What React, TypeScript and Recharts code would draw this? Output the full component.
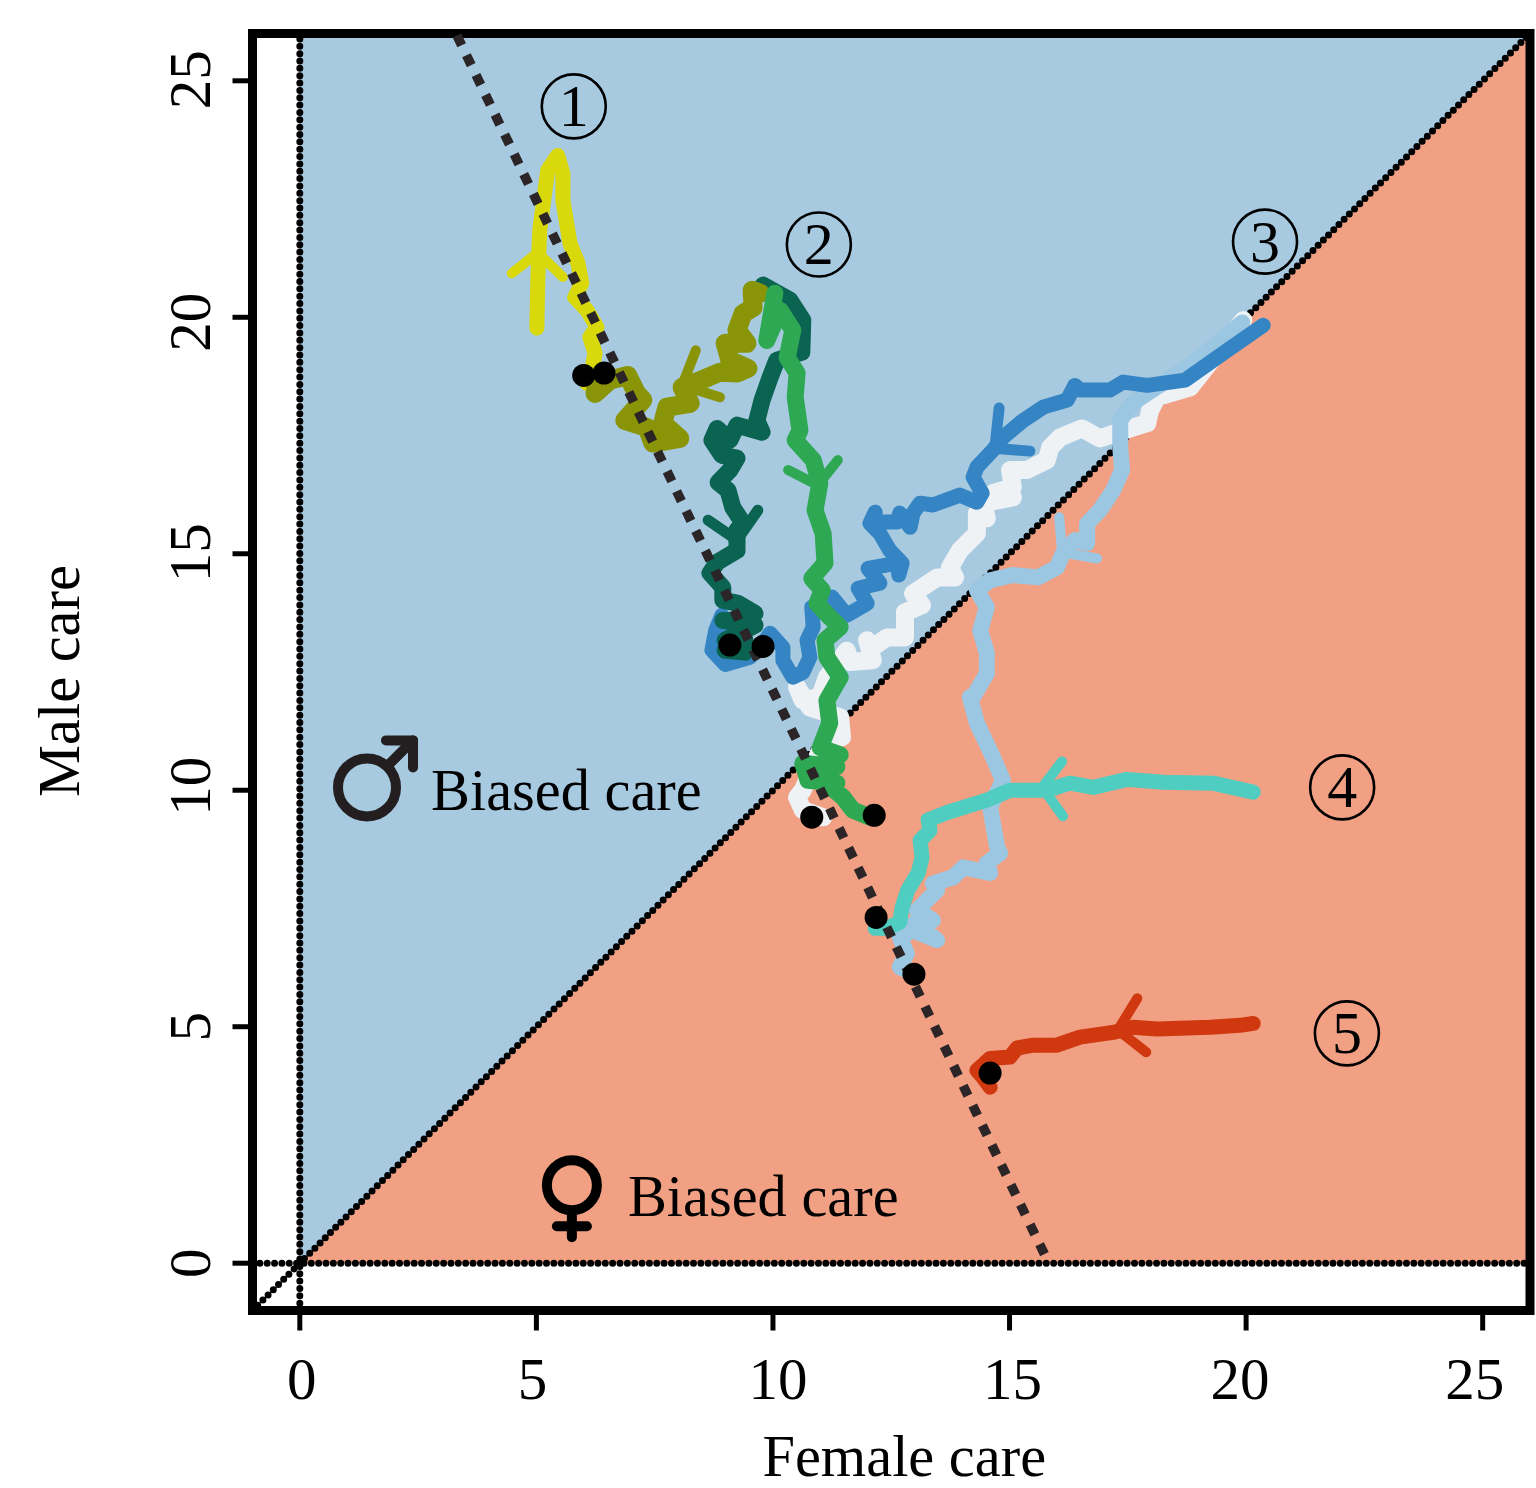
import { Area, ComposedChart, Line, ReferenceArea, ReferenceDot, XAxis, YAxis } from "recharts";

type Pair = [number, number];

const axisTicks = [0, 5, 10, 15, 20, 25];
const axisMin = -1;
const axisMax = 26;

const maleRegion = [
  { x: 0, y: [0, 26] },
  { x: 26, y: [26, 26] },
];
const femaleRegion = [
  { x: 0, y: [0, 0] },
  { x: 26, y: [0, 26] },
];

const equalCareLine: Pair[] = [[-1, -1], [26, 26]];
const zeroFemaleLine: Pair[] = [[0, -1], [0, 26]];
const zeroMaleLine: Pair[] = [[-1, 0], [26, 0]];
const isoclineLine: Pair[] = [[3.32, 25.96], [15.8, 0.06]];

const yellowPath: Pair[] = [
  [5.01, 19.77], [5.03, 20.78], [5.07, 21.84], [5.24, 23.11], [5.45, 23.42], [5.56, 23.04], [5.56, 22.47],
  [5.62, 22.11], [5.71, 21.56], [5.88, 21.14], [5.96, 20.72], [5.81, 20.42], [6.07, 20.15], [6.28, 19.79],
  [6.13, 19.58], [6.24, 19.24], [6.17, 18.88], [6.07, 18.6],
];
const yellowArrow: Pair[] = [[4.48, 20.93], [5.03, 21.37], [5.56, 20.85]];

const olivePath: Pair[] = [
  [9.73, 20.51], [9.56, 20.57], [9.58, 20.21], [9.37, 20.08], [9.24, 19.73], [9.45, 19.45], [8.99, 19.45],
  [9.09, 19.09], [9.47, 18.92], [9.24, 18.82], [8.88, 18.84], [8.39, 18.63], [8.08, 18.52], [8.25, 18.18],
  [7.76, 18.1], [7.67, 17.76], [8.03, 17.44], [7.46, 17.34], [7.34, 17.67], [6.87, 17.82], [7.25, 18.25],
  [7.12, 18.39], [6.93, 18.77], [6.55, 18.67], [6.24, 18.39], [6.28, 18.6], [6.43, 18.82],
];
const oliveArrow: Pair[] = [[8.37, 19.3], [8.08, 18.56], [8.88, 18.31]];

const darkGreenPath: Pair[] = [
  [9.79, 20.68], [10.36, 20.36], [10.63, 19.94], [10.61, 19.26], [10.08, 19.09], [9.94, 18.73], [9.77, 18.25],
  [9.66, 17.82], [9.77, 17.57], [9.24, 17.72], [9.09, 17.4], [8.82, 17.65], [8.71, 17.4], [8.92, 17.08],
  [9.24, 17.02], [9.09, 16.77], [8.84, 16.51], [9.05, 16.34], [9.15, 15.98], [9.37, 15.64], [9.24, 15.5],
  [9.24, 15.07], [8.82, 14.82], [8.67, 14.59], [8.94, 14.29], [8.94, 14.02], [9.26, 13.95], [9.62, 13.74],
  [9.24, 13.59], [8.94, 13.59], [9.62, 13.49], [8.99, 13.17], [9.41, 13.17], [8.99, 12.96], [9.41, 12.92], [9.26, 13.02],
];
const darkGreenArrow: Pair[] = [[8.63, 15.71], [9.24, 15.29], [9.68, 15.92]];

const greenPath: Pair[] = [
  [10.04, 20.51], [9.87, 19.51], [10.15, 20.15], [10.42, 19.73], [10.3, 19.15], [10.51, 18.82], [10.47, 18.31],
  [10.57, 17.61], [10.47, 17.4], [10.85, 16.98], [10.99, 16.49], [10.89, 15.92], [11.06, 15.43], [11.1, 14.8],
  [10.82, 14.48], [11.04, 14.23], [10.93, 13.95], [11.2, 13.66], [11.42, 13.45], [11.1, 13.17], [11.14, 12.81],
  [11.42, 12.39], [11.14, 11.9], [11.2, 11.42], [11.0, 10.9], [11.42, 10.75], [10.99, 10.42], [11.35, 10.5],
  [10.63, 10.57], [10.74, 10.21], [11.35, 10.15], [10.95, 10.3], [11.48, 9.85], [11.69, 9.58], [12.05, 9.43],
];
const greenArrow: Pair[] = [[10.32, 16.77], [10.95, 16.45], [11.37, 16.98]];

const bluePath: Pair[] = [
  [20.36, 19.83], [19.6, 19.3], [18.71, 18.67], [17.91, 18.56], [17.4, 18.63], [17.12, 18.46], [16.49, 18.46],
  [16.38, 18.56], [16.22, 18.25], [15.71, 18.1], [15.29, 17.82], [14.86, 17.46], [14.65, 17.19], [14.31, 16.83],
  [14.23, 16.62], [14.42, 16.28], [14.31, 16.09], [13.95, 16.24], [13.38, 16.03], [13.11, 16.07], [12.96, 15.86],
  [12.9, 15.56], [12.68, 15.86], [12.62, 15.67], [12.11, 15.67], [12.16, 15.88], [12.05, 15.64], [12.26, 15.43],
  [12.47, 15.07], [12.73, 14.8], [12.66, 14.55], [12.62, 14.8], [12.01, 14.69], [12.26, 14.38], [11.8, 14.27],
  [11.99, 13.95], [11.56, 13.7], [11.25, 14.08], [10.82, 13.87], [10.85, 13.45], [10.72, 13.17], [10.78, 12.81],
  [10.63, 12.49], [10.42, 12.39], [10.21, 12.75], [10.21, 13.02], [9.94, 13.32], [9.73, 13.02], [9.51, 12.81],
  [8.99, 12.66], [8.71, 12.96], [8.79, 13.38], [8.92, 13.7], [9.2, 13.17],
];
const blueArrow: Pair[] = [[14.78, 18.08], [14.69, 17.23], [15.43, 17.17]];

const whitePath: Pair[] = [
  [19.94, 19.94], [18.82, 18.52], [18.12, 18.31], [17.97, 18.03], [17.91, 17.76], [17.55, 17.65], [16.91, 17.44],
  [16.53, 17.65], [16.07, 17.46], [15.86, 17.25], [15.79, 16.98], [15.37, 16.77], [15.01, 16.77], [15.07, 16.41],
  [14.65, 16.28], [15.07, 16.19], [14.44, 16.07], [14.52, 15.75], [14.31, 15.86], [14.31, 15.43], [13.95, 15.07],
  [13.74, 14.71], [13.85, 14.5], [13.47, 14.5], [12.96, 14.16], [13.15, 13.91], [12.79, 13.76], [12.79, 13.23],
  [12.41, 13.23], [12.11, 13.02], [11.99, 13.17], [12.11, 12.75], [11.63, 12.71], [11.56, 12.95], [11.14, 12.39],
  [10.99, 11.97], [10.63, 11.9], [10.51, 12.18], [10.78, 11.75], [11.42, 11.54], [11.46, 11.12], [11.06, 10.99],
  [10.63, 10], [10.51, 9.85], [10.63, 9.58], [11.06, 9.43], [10.85, 9.43],
];

const lightBluePath: Pair[] = [
  [19.92, 19.89], [18.88, 19.03], [17.59, 18.18], [17.34, 17.82], [17.34, 17.25], [17.38, 16.77], [17.19, 16.34],
  [16.91, 15.92], [16.64, 15.64], [16.64, 15.22], [16.38, 15.29], [16.13, 15.01], [16.0, 14.71], [15.6, 14.5],
  [15.07, 14.55], [14.59, 14.44], [14.31, 14.23], [14.52, 13.87], [14.38, 13.38], [14.52, 12.9], [14.52, 12.47],
  [14.23, 11.97], [14.16, 11.97], [14.31, 11.42], [14.65, 10.7], [14.86, 10.21], [14.59, 9.64], [14.74, 8.79],
  [14.8, 8.67], [14.52, 8.46], [14.59, 8.25], [14.02, 8.37], [13.81, 8.16], [13.38, 8.03], [13.47, 7.89],
  [13.04, 7.46], [13.38, 7.25], [13.0, 7.2], [13.47, 6.83], [12.96, 7.04], [12.68, 6.89], [12.83, 6.55], [12.68, 6.26], [12.96, 6.13],
];
const lightBlueArrow: Pair[] = [[16.05, 15.77], [16.11, 15.03], [16.85, 14.9]];

const tealPath: Pair[] = [
  [20.15, 9.96], [19.3, 10.15], [18.25, 10.17], [17.48, 10.23], [16.77, 10.06], [16.28, 10.15], [15.79, 10],
  [15.01, 10], [14.52, 9.79], [13.68, 9.53], [13.28, 9.37], [13.32, 9.15], [13.11, 8.94], [13.15, 8.58],
  [13.07, 8.25], [12.85, 7.89], [12.73, 7.53], [12.68, 7.21], [12.41, 7.08], [12.16, 7.08],
];
const tealArrow: Pair[] = [[16.11, 10.61], [15.69, 10.06], [16.13, 9.45]];

const redPath: Pair[] = [
  [20.15, 5.07], [19.87, 5.03], [19.24, 4.99], [18.12, 4.95], [17.61, 4.99], [17.19, 4.88], [16.49, 4.78],
  [16.0, 4.61], [15.5, 4.61], [15.16, 4.55], [15.01, 4.36], [14.59, 4.33], [14.31, 4.08], [14.44, 3.93], [14.59, 3.72],
];
const redArrow: Pair[] = [[17.7, 5.6], [17.29, 4.93], [17.89, 4.46]];

const coveredStart: Pair[] = [[9.09, 13.07]];
const startPoints: Pair[] = [
  [6.0, 18.77], [6.43, 18.82], [9.79, 13.04], [10.82, 9.43], [12.14, 9.47], [12.18, 7.31], [12.98, 6.11], [14.59, 4.02],
];

const routeLabels = ["1", "2", "3", "4", "5"];
const routeLabelSpots: Pair[] = [[5.79, 24.46], [10.97, 21.54], [20.4, 21.6], [22.03, 10.06], [22.13, 4.86]];

const toPoints = (pairs: Pair[]) => pairs.map(([x, y]) => ({ x, y }));

const serif = '"Liberation Serif", serif';
const blueFill = "#a7cae1";
const orangeFill = "#f1a084";

// hand placed labels in the source figure sit a little off their ticks
const xLabelNudge: Record<number, number> = { 0: 2, 5: -4, 10: 5, 15: 3, 20: -6, 25: -8 };
const yLabelNudge: Record<number, number> = { 0: 0, 5: 0, 10: -4, 15: -1, 20: 5, 25: -1 };

const guideDots = { stroke: "#000", strokeWidth: 7, strokeDasharray: "0 7.35", strokeLinecap: "round" as const };

function RouteBadge(props: any) {
  const { cx, cy, label } = props;
  return (
    <g>
      <circle cx={cx} cy={cy} r={32} fill="none" stroke="#000" strokeWidth={2.6} />
      <text x={cx} y={cy + 20} textAnchor="middle" fontFamily={serif} fontSize={60} fill="#000">
        {label}
      </text>
    </g>
  );
}

function MaleNote(props: any) {
  const { cx, cy } = props;
  return (
    <g>
      <g fill="none" stroke="#231f20" strokeWidth={10} strokeLinecap="round" strokeLinejoin="round">
        <circle cx={cx} cy={cy} r={29} />
        <path d={`M${cx + 22} ${cy - 23}L${cx + 46} ${cy - 47}`} />
        <path d={`M${cx + 19} ${cy - 47}H${cx + 46}V${cy - 20}`} />
      </g>
      <text x={cx + 64} y={cy + 23} fontFamily={serif} fontSize={58.4} fill="#000">
        Biased care
      </text>
    </g>
  );
}

function FemaleNote(props: any) {
  const { cx, cy } = props;
  return (
    <g>
      <g fill="none" stroke="#000" strokeWidth={10} strokeLinecap="round">
        <circle cx={cx} cy={cy} r={25} />
        <path d={`M${cx} ${cy + 27}V${cy + 52}`} />
        <path d={`M${cx - 15} ${cy + 41}H${cx + 15}`} />
      </g>
      <text x={cx + 56} y={cy + 31} fontFamily={serif} fontSize={58.4} fill="#000">
        Biased care
      </text>
    </g>
  );
}

function XTick(props: any) {
  const { x, y, payload } = props;
  return (
    <text x={x + xLabelNudge[payload.value]} y={y + 66} textAnchor="middle" fontFamily={serif} fontSize={59} fill="#000">
      {payload.value}
    </text>
  );
}

function YTick(props: any) {
  const { x, y, payload } = props;
  const py = y + yLabelNudge[payload.value];
  return (
    <text x={x - 20} y={py} textAnchor="middle" fontFamily={serif} fontSize={59} fill="#000" transform={`rotate(-90 ${x - 20} ${py})`}>
      {payload.value}
    </text>
  );
}

type Track = { name: string; path: Pair[]; color: string; width: number };

const tracks: Track[] = [
  { name: "white", path: whitePath, color: "#eef2f5", width: 18 },
  { name: "lightBlue", path: lightBluePath, color: "#9cc7e2", width: 16 },
  { name: "lightBlueArrow", path: lightBlueArrow, color: "#9cc7e2", width: 10 },
  { name: "red", path: redPath, color: "#d0380f", width: 15 },
  { name: "redArrow", path: redArrow, color: "#d0380f", width: 10 },
  { name: "teal", path: tealPath, color: "#4fcdc0", width: 15 },
  { name: "tealArrow", path: tealArrow, color: "#4fcdc0", width: 10 },
  { name: "blue", path: bluePath, color: "#3585c4", width: 15 },
  { name: "blueArrow", path: blueArrow, color: "#3585c4", width: 11 },
];

const upperTracks: Track[] = [
  { name: "darkGreen", path: darkGreenPath, color: "#0b6352", width: 17 },
  { name: "darkGreenArrow", path: darkGreenArrow, color: "#0b6352", width: 11 },
  { name: "yellow", path: yellowPath, color: "#d8d80a", width: 15 },
  { name: "yellowArrow", path: yellowArrow, color: "#d8d80a", width: 10 },
  { name: "olive", path: olivePath, color: "#8a9407", width: 19 },
  { name: "oliveArrow", path: oliveArrow, color: "#8a9407", width: 10 },
  { name: "green", path: greenPath, color: "#2fa854", width: 17 },
  { name: "greenArrow", path: greenArrow, color: "#2fa854", width: 10 },
];

const drawTrack = (t: Track) => (
  <Line
    key={t.name}
    data={toPoints(t.path)}
    dataKey="y"
    type="linear"
    stroke={t.color}
    strokeWidth={t.width}
    strokeLinecap="round"
    strokeLinejoin="round"
    dot={false}
    activeDot={false}
    legendType="none"
    isAnimationActive={false}
  />
);

const drawStarts = (pairs: Pair[], name: string) => (
  <Line
    key={name}
    data={toPoints(pairs)}
    dataKey="y"
    stroke="none"
    dot={{ r: 11.5, fill: "#000", stroke: "none" }}
    activeDot={false}
    isAnimationActive={false}
  />
);

const drawGuide = (pairs: Pair[], name: string) => (
  <Line key={name} data={toPoints(pairs)} dataKey="y" {...guideDots} dot={false} activeDot={false} isAnimationActive={false} />
);

export default function App() {
  return (
    <div style={{ position: "absolute", left: 0, top: 0, width: 1536, height: 1488, background: "#fff" }}>
      <ComposedChart width={1536} height={1488} margin={{ top: 33.5, right: 6, bottom: 0, left: 0 }}>
        <XAxis
          dataKey="x"
          type="number"
          domain={[axisMin, axisMax]}
          ticks={axisTicks}
          allowDataOverflow
          height={177.5}
          axisLine={false}
          tickSize={20}
          tickLine={{ stroke: "#000", strokeWidth: 5 }}
          tick={<XTick />}
          interval={0}
          label={{
            value: "Female care",
            position: "insideBottom",
            offset: 12,
            dx: 13,
            style: { fontFamily: serif, fontSize: 58.4, fill: "#000" },
          }}
        />
        <YAxis
          dataKey="y"
          type="number"
          domain={[axisMin, axisMax]}
          ticks={axisTicks}
          allowDataOverflow
          width={252.5}
          axisLine={false}
          tickSize={20}
          tickLine={{ stroke: "#000", strokeWidth: 5 }}
          tick={<YTick />}
          interval={0}
          label={{
            value: "Male care",
            angle: -90,
            position: "insideLeft",
            offset: 58,
            dy: 9,
            style: { fontFamily: serif, fontSize: 58.4, fill: "#000", textAnchor: "middle" },
          }}
        />
        <Area data={maleRegion} dataKey="y" type="linear" fill={blueFill} fillOpacity={1} stroke="none" dot={false} activeDot={false} isAnimationActive={false} />
        <Area data={femaleRegion} dataKey="y" type="linear" fill={orangeFill} fillOpacity={1} stroke="none" dot={false} activeDot={false} isAnimationActive={false} />
        {drawGuide(equalCareLine, "equal")}
        {drawGuide(zeroFemaleLine, "zeroFemale")}
        {drawGuide(zeroMaleLine, "zeroMale")}
        {tracks.map(drawTrack)}
        {drawStarts(coveredStart, "covered")}
        {upperTracks.map(drawTrack)}
        {drawStarts(startPoints, "starts")}
        <Line
          data={toPoints(isoclineLine)}
          dataKey="y"
          stroke="#2b2527"
          strokeWidth={9.5}
          strokeDasharray="11 11"
          dot={false}
          activeDot={false}
          isAnimationActive={false}
        />
        <ReferenceDot x={1.42} y={10.06} r={0} shape={<MaleNote />} />
        <ReferenceDot x={5.75} y={1.65} r={0} shape={<FemaleNote />} />
        {routeLabels.map((label, i) => (
          <ReferenceDot key={label} x={routeLabelSpots[i][0]} y={routeLabelSpots[i][1]} r={0} shape={<RouteBadge label={label} />} />
        ))}
        <ReferenceArea x1={axisMin} x2={axisMax} y1={axisMin} y2={axisMax} fill="none" stroke="#000" strokeWidth={9} ifOverflow="visible" />
      </ComposedChart>
    </div>
  );
}
